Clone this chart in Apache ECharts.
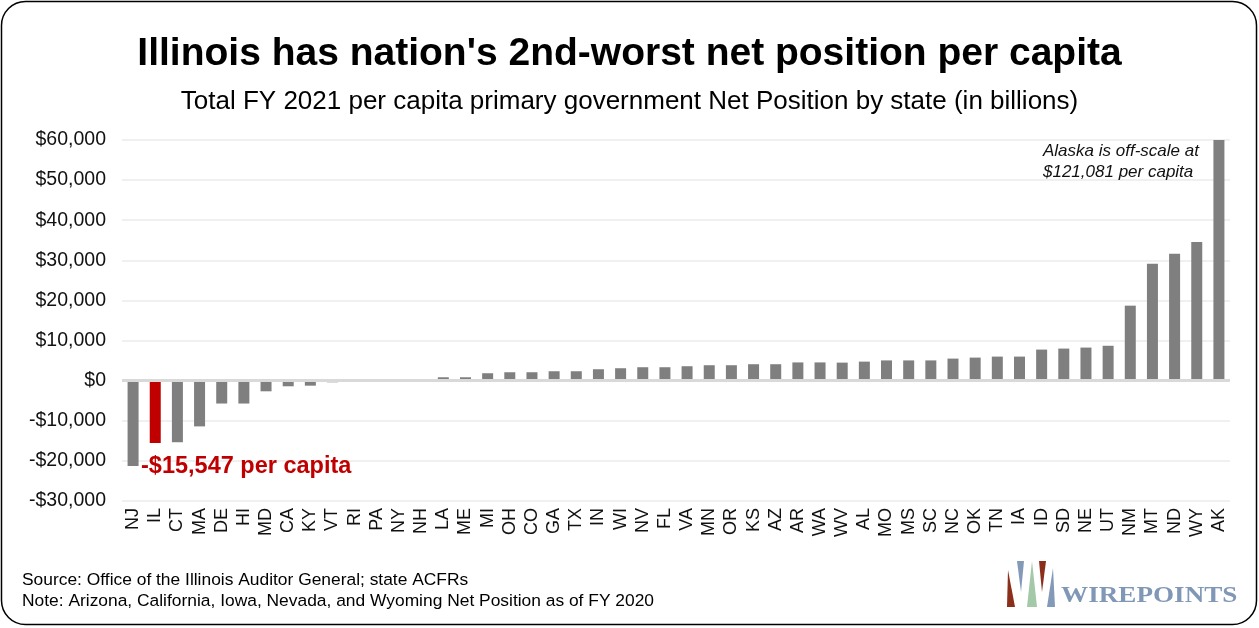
<!DOCTYPE html>
<html>
<head>
<meta charset="utf-8">
<script src="https://cdn.jsdelivr.net/npm/echarts@6/dist/echarts.min.js"></script>
<style>
html,body{margin:0;padding:0;background:#fff;}
#c{width:1259px;height:628px;}
</style>
</head>
<body>
<div id="c"></div>
<script>
const states = ['NJ','IL','CT','MA','DE','HI','MD','CA','KY','VT','RI','PA','NY','NH','LA','ME','MI','OH','CO','GA','TX','IN','WI','NV','FL','VA','MN','OR','KS','AZ','AR','WA','WV','AL','MO','MS','SC','NC','OK','TN','IA','ID','SD','NE','UT','NM','MT','ND','WY','AK'];
const netPosition = [-21300,-15547,-15350,-11400,-5700,-5700,-2650,-1400,-1250,-400,-60,0,60,400,850,850,1850,2100,2100,2350,2350,2850,3100,3350,3350,3600,3850,3850,4100,4100,4550,4550,4500,4750,5050,5050,5050,5500,5750,6000,6000,7750,8000,8250,8700,18700,29150,31650,34550,121081];
const highlightState = 'IL';
const yTicks = {min:-30000, max:60000, interval:10000};

const fmt = v => (v < 0 ? '-$' : '$') + Math.abs(v).toLocaleString('en-US');
const SANS = '"Liberation Sans", Arial, sans-serif';

const chart = echarts.init(document.getElementById('c'));
const barData = netPosition.map((v,i) => ({
  value: v,
  itemStyle: {color: states[i] === highlightState ? '#c00000' : '#7f7f7f'}
}));

chart.setOption({
  animation: false,
  backgroundColor: '#fff',
  title: [
    {text: "Illinois has nation's 2nd-worst net position per capita", left: 'center', top: 30,
     textStyle: {fontFamily: SANS, fontWeight: 'bold', fontSize: 39, color: '#000'}},
    {text: 'Total FY 2021 per capita primary government Net Position by state (in billions)', left: 'center', top: 84,
     textStyle: {fontFamily: SANS, fontWeight: 'normal', fontSize: 26, color: '#000'}}
  ],
  grid: {left: 122, right: 29, top: 140, bottom: 127},
  xAxis: {
    type: 'category', data: states,
    axisLine: {show: false, onZero: false},
    axisTick: {show: false},
    axisLabel: {rotate: 90, interval: 0, margin: 7, fontFamily: SANS, fontSize: 18, color: '#111'}
  },
  yAxis: {
    type: 'value', min: yTicks.min, max: yTicks.max, interval: yTicks.interval,
    axisLine: {show: false}, axisTick: {show: false},
    splitLine: {lineStyle: {color: '#f0f0f0', width: 2}},
    axisLabel: {formatter: fmt, margin: 16, fontFamily: SANS, fontSize: 19.5, color: '#111'}
  },
  series: [{
    type: 'bar', data: barData, barWidth: 11, clip: true,
    markLine: {silent: true, symbol: 'none', label: {show: false},
      lineStyle: {color: '#d9d9d9', width: 3, type: 'solid'},
      data: [{yAxis: 0}]}
  }],
  graphic: [
    {type: 'rect', shape: {x: 1.5, y: 1.5, width: 1255, height: 623, r: 24}, style: {fill: 'none', stroke: '#000', lineWidth: 1.5}, z: 100},
    {type: 'text', x: 141, y: 467, z: 50, style: {text: '-$15,547 per capita', fill: '#c00000', fontFamily: SANS, fontWeight: 'bold', fontSize: 23.5, verticalAlign: 'middle'}},
    {type: 'text', x: 1043, y: 151, z: 50, style: {text: 'Alaska is off-scale at', fill: '#111', fontFamily: SANS, fontStyle: 'italic', fontSize: 17, verticalAlign: 'middle'}},
    {type: 'text', x: 1043, y: 172, z: 50, style: {text: '$121,081 per capita', fill: '#111', fontFamily: SANS, fontStyle: 'italic', fontSize: 17, verticalAlign: 'middle'}},
    {type: 'text', x: 22, y: 580, z: 50, style: {text: 'Source: Office of the Illinois Auditor General; state ACFRs', fill: '#000', fontFamily: SANS, fontSize: 17.4, verticalAlign: 'middle'}},
    {type: 'text', x: 22, y: 601, z: 50, style: {text: 'Note: Arizona, California, Iowa, Nevada, and Wyoming Net Position as of FY 2020', fill: '#000', fontFamily: SANS, fontSize: 17.4, verticalAlign: 'middle'}},
    {type: 'polygon', shape: {points: [[1008,570],[1007,607],[1015,607]]}, style: {fill: '#8b2e1a'}},
    {type: 'polygon', shape: {points: [[1017,561],[1024,561],[1021,592]]}, style: {fill: '#8399b8'}},
    {type: 'polygon', shape: {points: [[1032,561],[1027,607],[1037,607]]}, style: {fill: '#a3c9a8'}},
    {type: 'polygon', shape: {points: [[1039,561],[1046,561],[1042,592]]}, style: {fill: '#8b2e1a'}},
    {type: 'polygon', shape: {points: [[1053,568],[1047,607],[1055,607]]}, style: {fill: '#8399b8'}},
    {type: 'text', x: 1061, y: 596, scaleX: 1.18, z: 50, style: {text: 'WIREPOINTS', fill: '#8098b6', fontFamily: '"Liberation Serif", "Times New Roman", serif', fontWeight: 'bold', fontSize: 23, verticalAlign: 'middle'}}
  ]
});
</script>
</body>
</html>
